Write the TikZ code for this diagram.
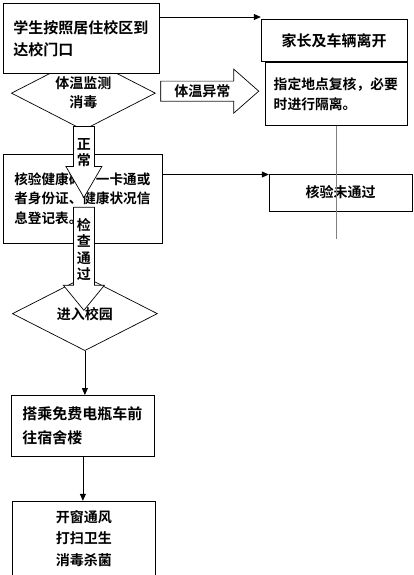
\documentclass[tikz,border=0pt]{standalone}
\usepackage{fontspec}
\setmainfont{Noto Sans CJK SC}[BoldFont={* Bold}]
\usetikzlibrary{shapes, arrows.meta, positioning, backgrounds, calc, shapes.geometric}

\begin{document}
\begin{tikzpicture}[
    box/.style={draw, fill=white, line width=0.8pt, inner ysep=0pt},
    decision/.style={draw, diamond, fill=white, line width=0.7pt, inner sep=0pt, aspect=2, align=center},
    blockarrow/.style={draw, fill=white, line width=0.7pt},
    arrowtext/.style={font=\bfseries\fontsize{14pt}{16.5pt}\selectfont, align=center, inner sep=0pt},
    flow/.style={-{Triangle[length=7pt,width=6pt]}, line width=0.8pt}
]
        \node[box, inner xsep=10pt, text width=136pt, minimum height=70pt, align=left, font=\bfseries\fontsize{15pt}{22pt}\selectfont] (start) {学生按照居住校区到\\达校门口};
        \useasboundingbox ($(start.north west)+(-3pt,3pt)$) rectangle ++(413pt,-575pt);
        \begin{scope}[on background layer]
        \node[decision, minimum width=144pt, minimum height=74pt, below=-18pt of start, xshift=2pt, font=\bfseries\fontsize{14pt}{19pt}\selectfont] (check1) {体温监测\\消毒};
        \end{scope}
        \node[box, inner xsep=11pt, text width=137pt, minimum height=89pt, align=left, below=23pt of check1, xshift=-0.5pt, font=\bfseries\fontsize{13.6pt}{19.5pt}\selectfont] (verify) {核验健康码、一卡通或\\者身份证、健康状况信\\息登记表。};
        \node[decision, minimum width=145pt, minimum height=74pt, below=33pt of verify, xshift=2pt] (enter) {};
        \node[box, inner xsep=11pt, text width=121pt, minimum height=61pt, align=left, below=44pt of enter, xshift=-2pt, font=\bfseries\fontsize{15pt}{24pt}\selectfont] (ride) {搭乘免费电瓶车前\\往宿舍楼};
        \node[box, minimum width=143pt, minimum height=74pt, align=center, below=44pt of ride, xshift=1pt, font=\bfseries\fontsize{14pt}{21.5pt}\selectfont] (dorm) {开窗通风\\打扫卫生\\消毒杀菌};
        
        \node[box, minimum width=146pt, minimum height=42pt, right=101pt of start, yshift=-2pt, font=\bfseries\fontsize{15pt}{18pt}\selectfont] (leave) {家长及车辆离开};
        \node[box, inner xsep=8.5pt, text width=125pt, minimum height=63pt, align=left, below=0pt of leave, xshift=2pt, font=\bfseries\fontsize{13.8pt}{20pt}\selectfont] (recheck) {指定地点复核，必要\\时进行隔离。};
        \node[box, minimum width=143pt, minimum height=37pt, right=106pt of verify, yshift=6pt, font=\bfseries\fontsize{14pt}{17pt}\selectfont] (fail) {核验未通过};
        
        % block arrows
        \draw[blockarrow, draw=gray!70, xshift=-1.2pt, yshift=-1.2pt] ($(check1.east)+(5pt,12pt)$) -- ++(0,-20pt) -- ++(73pt,0);
        \draw[blockarrow] ($(check1.east)+(5pt,12pt)$) -- ++(73pt,0) -- ++(0,12pt) -- ++(25pt,-22pt) -- ++(-25pt,-22pt) -- ++(0,12pt) -- ++(-73pt,0) -- cycle;
        \node[arrowtext] (hottxt) at ($(check1.east)+(46.5pt,2pt)$) {体温异常};
        \draw[blockarrow] ($(check1.south)+(-10pt,4pt)$) -- ++(0,-40pt) -- ++(-7.5pt,0) -- ++(18pt,-31pt) -- ++(18pt,31pt) -- ++(-7.5pt,0) -- ++(0,40pt) -- cycle;
        \node[arrowtext] (normaltxt) at ($(check1.south)+(0.5pt,-22pt)$) {正\\常};
        \draw[blockarrow] ($(verify.south)+(-9.5pt,36pt)$) -- ++(0,-78pt) -- ++(-10pt,0) -- ++(20.5pt,-25pt) -- ++(20.5pt,25pt) -- ++(-10pt,0) -- ++(0,78pt) -- cycle;
        \node[arrowtext] (passtxt) at ($(verify.south)+(1pt,-6.5pt)$) {检\\查\\通\\过};
        \node[font=\bfseries\fontsize{14pt}{17pt}\selectfont, inner sep=0pt] (entertxt) at (enter.center) {进入校园};
        
        \draw[flow] ([yshift=-14pt]start.north east) -- ([yshift=2pt]leave.north west);
        \draw[flow] ([yshift=-21pt]verify.north east) -- ([yshift=-1pt]fail.north west);
        \draw[flow] (enter.south) -- (enter.south |- ride.north);
        \draw[flow] (ride.south) -- (ride.south |- dorm.north);
        \coordinate (lineend) at ($(recheck.south)+(0,-113pt)$);
        \draw[gray, line width=1.3pt] (recheck.south) -- (lineend);
    \end{tikzpicture}
\end{document}
